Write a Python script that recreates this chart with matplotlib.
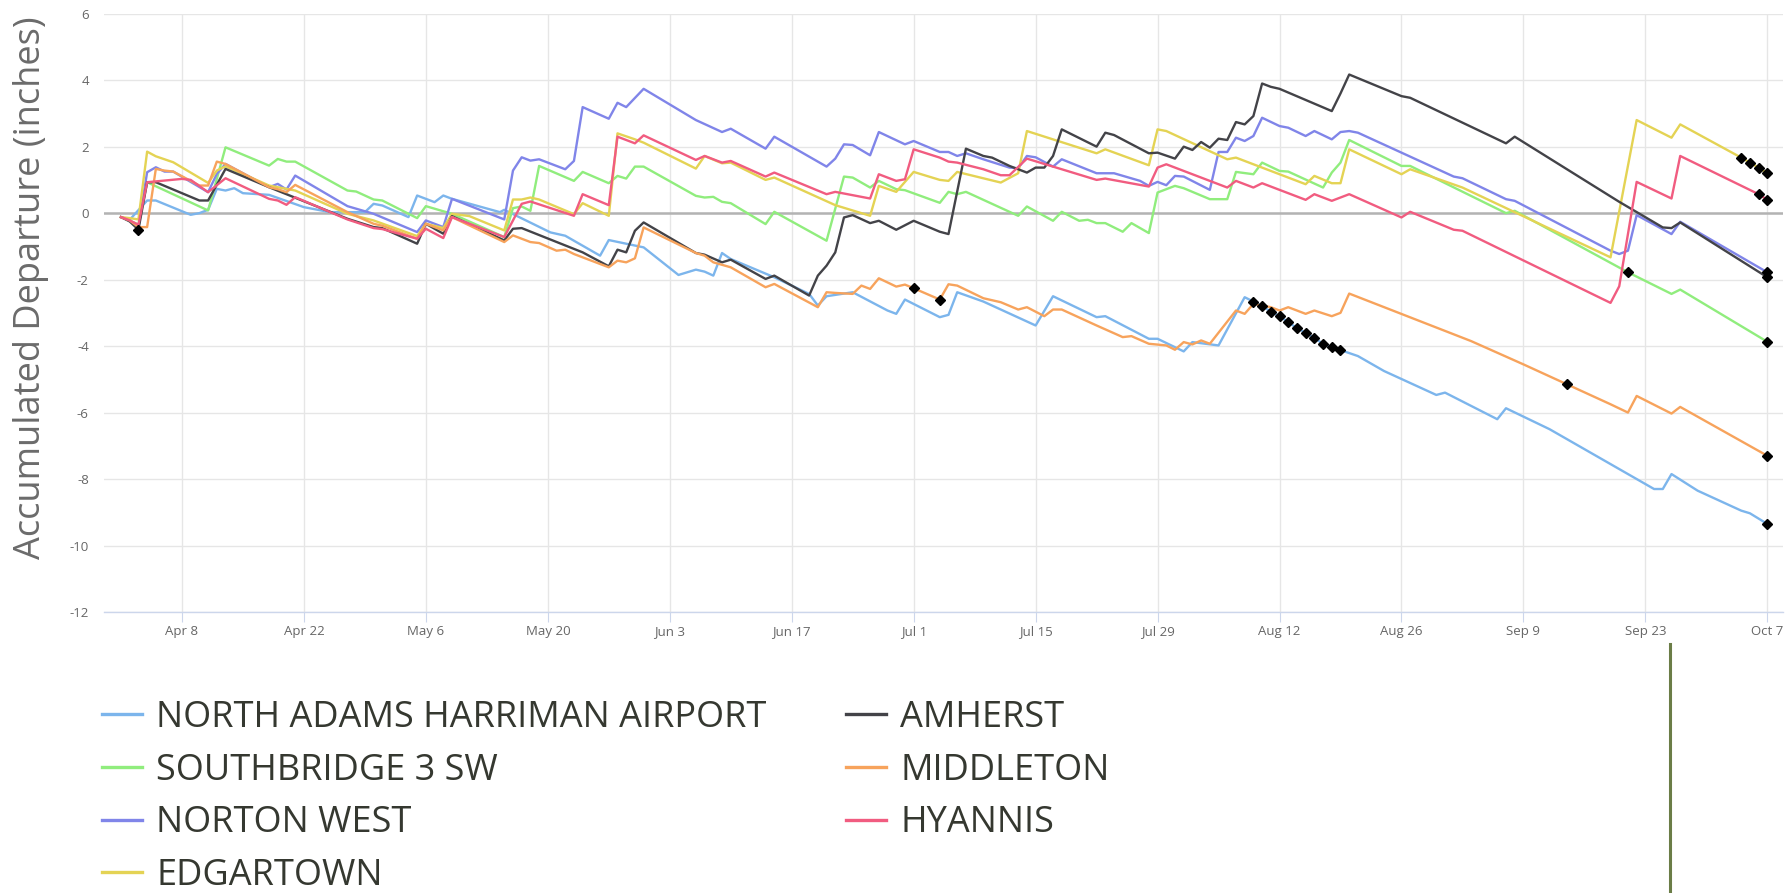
import matplotlib
matplotlib.use('Agg')
import matplotlib.pyplot as plt
import matplotlib.dates as mdates
from matplotlib.lines import Line2D
from matplotlib.ticker import FixedLocator, FuncFormatter
import datetime as dt

plt.rcParams['font.family'] = ['Open Sans', 'DejaVu Sans']
plt.rcParams['axes.unicode_minus'] = False

# ---------------- data (day offset from Apr 1, value in inches) ----------------
start_date = dt.date(2024, 4, 1)

series_names = ["NORTH ADAMS HARRIMAN AIRPORT", "SOUTHBRIDGE 3 SW", "NORTON WEST",
                "EDGARTOWN", "AMHERST", "MIDDLETON", "HYANNIS"]
series_colors = ["#7cb5ec", "#90ed7d", "#8085e9", "#e4d354", "#434348", "#f7a35c", "#f15c80"]

north_adams_days = [0, 1, 3, 4, 8, 9, 10, 11, 12, 13, 14, 17, 21, 22, 24, 28, 29, 30, 33, 34, 36, 37, 38,
                    43.5, 44, 49.3, 51, 55, 56, 60, 64, 66, 67, 68, 69, 70, 75, 79, 80, 81, 84, 88, 89, 90,
                    94, 95, 96, 99, 105, 107, 112, 113, 118, 119, 122, 123, 126, 129,
                    130, 131, 132, 133, 134, 135, 136, 137, 138, 139, 140,
                    142, 145, 151, 152, 158, 159, 164, 176, 177, 178, 181, 186, 187, 189]
north_adams_vals = [-0.12, -0.2, 0.38, 0.38, -0.05, 0.0, 0.1, 0.73, 0.68, 0.75, 0.6, 0.55, 0.18, 0.13, 0.03, 0.03, 0.28, 0.23, -0.12, 0.53, 0.33, 0.53, 0.43,
                    0.03, 0.1, -0.58, -0.68, -1.28, -0.81, -1.03, -1.86, -1.7, -1.76, -1.88, -1.2, -1.38, -1.93, -2.43, -2.78, -2.5, -2.38, -2.93, -3.03, -2.6,
                    -3.13, -3.06, -2.38, -2.66, -3.38, -2.5, -3.13, -3.1, -3.78, -3.78, -4.16, -3.88, -3.98, -2.53,
                    -2.66, -2.8, -2.96, -3.1, -3.28, -3.46, -3.6, -3.76, -3.93, -4.03, -4.12,
                    -4.3, -4.75, -5.47, -5.4, -6.2, -5.87, -6.5, -8.3, -8.3, -7.85, -8.35, -8.95, -9.03, -9.35]

southbridge_days = [0, 1, 2, 3, 10, 12, 17, 18, 19, 20, 26, 27, 29, 30, 34, 35, 38, 44, 45, 46, 47, 48,
                    52, 53, 56, 57, 58, 59, 60, 66, 67, 68, 69, 70, 74, 75, 81, 83, 84, 86, 87, 89, 90,
                    94, 95, 96, 97, 103, 104, 107, 108, 110, 111, 112, 113, 115, 116, 118, 119, 121, 122,
                    125, 127, 128, 130, 131, 133, 134, 138, 139, 140, 141, 147, 148, 159, 160, 173, 178, 179, 189]
southbridge_vals = [-0.12, -0.22, -0.35, 0.93, 0.08, 1.98, 1.43, 1.63, 1.55, 1.55, 0.68, 0.65, 0.41, 0.38, -0.15, 0.21, -0.02, -0.72, 0.15, 0.2, 0.07, 1.42,
                    0.97, 1.24, 0.9, 1.12, 1.04, 1.4, 1.4, 0.52, 0.47, 0.49, 0.34, 0.3, -0.33, 0.04, -0.83, 1.1, 1.07, 0.77, 0.97, 0.72, 0.69,
                    0.31, 0.64, 0.57, 0.64, -0.08, 0.2, -0.23, 0.04, -0.23, -0.2, -0.3, -0.3, -0.56, -0.3, -0.6, 0.62, 0.82, 0.75,
                    0.42, 0.42, 1.24, 1.17, 1.52, 1.27, 1.25, 0.77, 1.22, 1.52, 2.2, 1.42, 1.42, 0.0, 0.07, -1.78, -2.43, -2.3, -3.87]

norton_west_days = [0, 1, 2, 3, 4, 5, 6, 10, 11, 12, 17, 18, 19, 20, 26, 29, 34, 35, 37, 38, 44, 45, 46, 47, 48,
                    51, 52, 53, 56, 57, 58, 60, 66, 69, 70, 74, 75, 81, 82, 83, 84, 86, 87, 90, 91,
                    94, 95, 96, 97, 99, 102, 103, 104, 105, 107, 108, 112, 114, 117, 118, 119, 120, 121, 122,
                    125, 126, 127, 128, 129, 130, 131, 133, 134, 136, 137, 139, 140, 141, 142, 147, 153, 154,
                    159, 160, 171, 172, 173, 174, 178, 179, 189]
norton_west_vals = [-0.12, -0.22, -0.42, 1.23, 1.38, 1.25, 1.25, 0.63, 1.18, 1.48, 0.78, 0.88, 0.71, 1.13, 0.21, -0.02, -0.57, -0.22, -0.42, 0.43, -0.19, 1.28, 1.68, 1.58, 1.62,
                    1.32, 1.57, 3.19, 2.84, 3.32, 3.19, 3.74, 2.8, 2.44, 2.54, 1.94, 2.3, 1.4, 1.64, 2.07, 2.05, 1.74, 2.44, 2.07, 2.17,
                    1.84, 1.84, 1.72, 1.8, 1.62, 1.37, 1.35, 1.72, 1.68, 1.4, 1.62, 1.2, 1.2, 0.97, 0.82, 0.94, 0.84, 1.12, 1.1,
                    0.7, 1.84, 1.84, 2.27, 2.17, 2.32, 2.87, 2.62, 2.57, 2.32, 2.47, 2.22, 2.44, 2.47, 2.42, 1.82, 1.1, 1.05,
                    0.42, 0.37, -1.13, -1.23, -1.13, -0.06, -0.63, -0.26, -1.78]

edgartown_days = [0, 1, 2, 3, 4, 6, 10, 11, 12, 17, 20, 26, 29, 34, 35, 37, 38, 40, 44, 45, 46, 47, 48,
                  52, 53, 56, 57, 59, 60, 66, 67, 69, 70, 74, 75, 82, 86, 87, 89, 91, 94, 95, 96, 101, 103, 104,
                  112, 113, 118, 119, 120, 127, 128, 136, 137, 139, 140, 141, 147, 148, 154, 171, 174, 178, 179,
                  186, 187, 188, 189]
edgartown_vals = [-0.12, -0.15, -0.19, 1.85, 1.71, 1.53, 0.91, 1.28, 1.41, 0.83, 0.68, -0.02, -0.22, -0.69, -0.32, -0.45, -0.02, -0.09, -0.52, 0.41, 0.41, 0.47, 0.41,
                  -0.03, 0.3, -0.08, 2.4, 2.22, 2.12, 1.34, 1.72, 1.5, 1.52, 1.0, 1.07, 0.24, -0.08, 0.82, 0.64, 1.24, 1.0, 0.97, 1.24, 0.92, 1.2, 2.47,
                  1.8, 1.92, 1.44, 2.52, 2.47, 1.62, 1.67, 0.87, 1.12, 0.9, 0.9, 1.92, 1.17, 1.32, 0.77, -1.33, 2.8, 2.27, 2.67,
                  1.67, 1.52, 1.37, 1.2]

amherst_days = [0, 1, 2, 3, 4, 9, 10, 12, 17, 26, 29, 30, 34, 35, 37, 38, 44, 45, 46, 53, 56, 57, 58, 59, 60,
                66, 67, 69, 70, 74, 75, 79, 80, 81, 82, 83, 84, 86, 87, 89, 91, 94, 95, 97, 99, 100, 102, 104,
                105, 106, 107, 108, 112, 113, 114, 118, 119, 121, 122, 123, 124, 125, 126, 127, 128, 129, 130,
                131, 132, 133, 139, 140, 141, 147, 148, 159, 160, 172, 177, 178, 179, 189]
amherst_vals = [-0.12, -0.25, -0.5, 0.93, 0.93, 0.38, 0.38, 1.33, 0.78, -0.17, -0.42, -0.45, -0.92, -0.32, -0.62, -0.09, -0.82, -0.47, -0.45, -1.18, -1.6, -1.1, -1.18, -0.53, -0.28,
                -1.2, -1.25, -1.48, -1.4, -1.98, -1.88, -2.48, -1.88, -1.58, -1.18, -0.13, -0.06, -0.3, -0.23, -0.5, -0.23, -0.56, -0.63, 1.94, 1.72, 1.67, 1.42, 1.22,
                1.37, 1.37, 1.72, 2.52, 2.0, 2.42, 2.35, 1.8, 1.82, 1.64, 2.0, 1.9, 2.14, 1.97, 2.24, 2.2, 2.74, 2.67, 2.92,
                3.9, 3.8, 3.74, 3.07, 3.6, 4.17, 3.52, 3.47, 2.1, 2.3, 0.34, -0.43, -0.45, -0.28, -1.93]

middleton_days = [0, 1, 2, 3, 4, 5, 6, 9, 10, 11, 12, 17, 18, 19, 20, 26, 29, 30, 34, 35, 37, 38, 44, 45, 47, 48,
                  50, 51, 52, 56, 57, 58, 59, 60, 66, 67, 68, 70, 74, 75, 80, 81, 82, 84, 85, 86, 87, 89, 90, 91,
                  94, 95, 96, 99, 101, 103, 104, 106, 107, 108, 112, 115, 116, 118, 120, 121, 122, 123, 124, 125,
                  128, 129, 130, 132, 133, 134, 136, 137, 139, 140, 141, 155, 161, 166, 171, 173, 174, 178, 179, 189]
middleton_vals = [-0.12, -0.22, -0.42, -0.42, 1.33, 1.28, 1.25, 0.83, 0.83, 1.55, 1.48, 0.78, 0.72, 0.63, 0.85, 0.03, -0.32, -0.38, -0.77, -0.32, -0.52, -0.12, -0.87, -0.67, -0.87, -0.9,
                  -1.13, -1.1, -1.23, -1.63, -1.43, -1.48, -1.36, -0.43, -1.2, -1.28, -1.48, -1.63, -2.23, -2.13, -2.83, -2.38, -2.4, -2.43, -2.18, -2.28, -1.96, -2.21, -2.15, -2.26,
                  -2.6, -2.14, -2.18, -2.56, -2.68, -2.9, -2.83, -3.1, -2.9, -2.9, -3.38, -3.73, -3.7, -3.93, -3.98, -4.11, -3.88, -3.95, -3.83, -3.93,
                  -2.93, -3.03, -2.73, -2.83, -2.93, -2.83, -3.03, -2.93, -3.1, -3.0, -2.42, -3.85, -4.55, -5.15, -5.75, -6.0, -5.5, -6.03, -5.83, -7.3]

hyannis_days = [0, 1, 2, 3, 5, 7, 8, 10, 12, 17, 18, 19, 20, 26, 29, 30, 34, 35, 37, 38, 44, 46, 47,
                52, 53, 56, 57, 59, 60, 66, 67, 69, 70, 74, 75, 81, 82, 86, 87, 89, 90, 91, 94, 95, 96, 99,
                101, 102, 104, 112, 113, 118, 119, 120, 127, 128, 130, 131, 136, 137, 139, 141, 147, 148,
                153, 154, 171, 172, 174, 178, 179, 188, 189]
hyannis_vals = [-0.12, -0.22, -0.35, 0.93, 0.98, 1.03, 1.0, 0.63, 1.05, 0.43, 0.38, 0.25, 0.48, -0.19, -0.45, -0.48, -0.77, -0.47, -0.75, -0.12, -0.72, 0.28, 0.35,
                -0.08, 0.57, 0.24, 2.3, 2.1, 2.34, 1.6, 1.72, 1.52, 1.57, 1.1, 1.22, 0.57, 0.64, 0.44, 1.17, 0.97, 1.02, 1.92, 1.67, 1.55, 1.52, 1.32,
                1.14, 1.14, 1.64, 1.0, 1.04, 0.8, 1.37, 1.47, 0.77, 0.97, 0.77, 0.9, 0.4, 0.57, 0.37, 0.57, -0.13, 0.04,
                -0.5, -0.53, -2.7, -2.2, 0.94, 0.44, 1.72, 0.57, 0.4]

# flagged (diamond) points
flag_days = [2, 91, 94, 130, 131, 132, 133, 134, 135, 136, 137, 138, 139, 140, 166, 173,
             186, 187, 188, 189, 188, 189, 189, 189, 189, 189, 189]
flag_vals = [-0.5, -2.26, -2.6, -2.66, -2.8, -2.96, -3.1, -3.28, -3.46, -3.6, -3.76, -3.93, -4.03, -4.12, -5.15, -1.78,
             1.67, 1.52, 1.37, 1.2, 0.57, 0.4, -1.78, -1.93, -3.87, -7.3, -9.35]

tick_days = [7, 21, 35, 49, 63, 77, 91, 105, 119, 133, 147, 161, 175, 189]
y_ticks = [-12, -10, -8, -6, -4, -2, 0, 2, 4, 6]

# ---------------- plot ----------------
base = mdates.date2num(start_date)
def to_x(days):
    return [base + d for d in days]

series_days = [north_adams_days, southbridge_days, norton_west_days, edgartown_days,
               amherst_days, middleton_days, hyannis_days]
series_vals = [north_adams_vals, southbridge_vals, norton_west_vals, edgartown_vals,
               amherst_vals, middleton_vals, hyannis_vals]

W, H = 1788, 893
fig = plt.figure(figsize=(W / 100, H / 100), dpi=100)
ax = fig.add_axes([104 / W, 1 - 612 / H, (1783 - 104) / W, (612 - 13.7) / H])

ax.axhline(0, color='#b3b3b3', lw=1.8, zorder=1.5)
handles = []
for name, col, dd, vv in zip(series_names, series_colors, series_days, series_vals):
    ln, = ax.plot(to_x(dd), vv, color=col, lw=1.7, label=name, zorder=3,
                  solid_joinstyle='round')
    handles.append(ln)

ax.plot(to_x(flag_days), flag_vals, 'D', color='black', ms=4.6, zorder=5, lw=0)

ax.set_xlim(base - 1.95, base + 190.8)
ax.set_ylim(-12, 6)
ax.xaxis.set_major_locator(FixedLocator(to_x(tick_days)))
ax.xaxis.set_major_formatter(FuncFormatter(
    lambda x, pos: f"{mdates.num2date(x):%b} {mdates.num2date(x).day}"))
ax.set_yticks(y_ticks)
ax.set_yticklabels([str(v) for v in y_ticks])

ax.grid(True, color='#e6e6e6', lw=1)
ax.set_axisbelow(True)
for s in ['top', 'right', 'left']:
    ax.spines[s].set_visible(False)
ax.spines['bottom'].set_color('#ccd6eb')
ax.spines['bottom'].set_linewidth(1)
ax.tick_params(axis='x', length=7, color='#ccd6eb', labelsize=9.5, labelcolor='#666666', pad=2.5)
ax.tick_params(axis='y', length=0, labelsize=9.5, labelcolor='#666666', pad=11)

fig.text(31 / W, 1 - 288 / H, 'Accumulated Departure (inches)', rotation=90,
         ha='center', va='center', fontsize=26, color='#6b6b6b')

fig.legend(handles=handles, loc='upper left', bbox_to_anchor=(102 / W, 1 - 700 / H),
           ncol=2, frameon=False, fontsize=26, handlelength=1.1, handletextpad=0.4,
           columnspacing=2.2, labelspacing=0.46, borderaxespad=0, borderpad=0,
           labelcolor='#353830')
for lh in fig.legends[0].get_lines():
    lh.set_linewidth(2.4)

fig.add_artist(Line2D([1670 / W, 1670 / W], [0, 1 - 644 / H], transform=fig.transFigure,
                      color='#6b7d47', lw=2.2))

fig.savefig('out.png', dpi=100)
